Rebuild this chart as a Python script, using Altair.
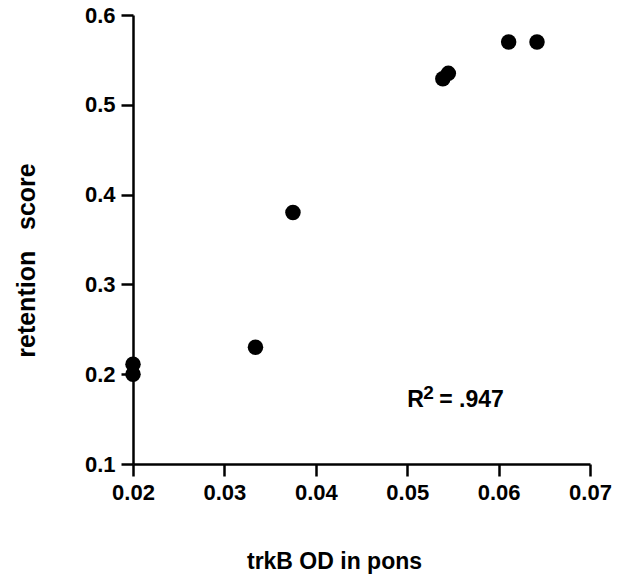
import altair as alt
import pandas as pd

trkb_od = [0.020, 0.020, 0.0334, 0.0375, 0.0539, 0.0545, 0.0611, 0.0642]
retention = [0.200, 0.211, 0.230, 0.380, 0.529, 0.535, 0.570, 0.570]

x_ticks = [0.02, 0.03, 0.04, 0.05, 0.06, 0.07]
y_ticks = [0.1, 0.2, 0.3, 0.4, 0.5, 0.6]

df = pd.DataFrame({"x": trkb_od, "y": retention})

FONT = "Liberation Sans"

xs = alt.Scale(domain=[0.02, 0.07], nice=False, zero=False)
ys = alt.Scale(domain=[0.1, 0.6], nice=False, zero=False)

points = alt.Chart(df).mark_circle(size=240, color="black", opacity=1).encode(
    x=alt.X("x:Q", scale=xs,
            axis=alt.Axis(values=x_ticks, format=".2f", title="trkB OD in pons",
                          titleX=201, titleY=104, titleAlign="center",
                          titleBaseline="alphabetic", titleFontSize=23)),
    y=alt.Y("y:Q", scale=ys,
            axis=alt.Axis(values=y_ticks, format=".1f",
                          title="retention\u00a0\u00a0\u00a0score",
                          titleX=-107, titleY=245, titleAlign="center",
                          titleBaseline="middle", titleAngle=-90, titleFontSize=25)),
)

ann = pd.DataFrame({"x": [0.05], "y": [0.1638]})
r_text = alt.Chart(ann).mark_text(text="R", align="left", baseline="alphabetic",
                                  fontSize=23, fontWeight="bold", font=FONT, color="black"
                                  ).encode(x=alt.X("x:Q", scale=xs), y=alt.Y("y:Q", scale=ys))
sup_text = alt.Chart(ann).mark_text(text="2", align="left", baseline="alphabetic",
                                    fontSize=19, fontWeight="bold", font=FONT, color="black",
                                    dx=16, dy=-8
                                    ).encode(x=alt.X("x:Q", scale=xs), y=alt.Y("y:Q", scale=ys))
rest_text = alt.Chart(ann).mark_text(text="= .947", align="left", baseline="alphabetic",
                                     fontSize=23, fontWeight="bold", font=FONT, color="black",
                                     dx=32
                                     ).encode(x=alt.X("x:Q", scale=xs), y=alt.Y("y:Q", scale=ys))

chart = alt.layer(points, r_text, sup_text, rest_text).properties(
    width=457, height=449,
    background="white",
    autosize=alt.AutoSizeParams(type="none"),
    padding={"left": 125, "top": 7, "right": 30, "bottom": 110},
).configure_view(stroke=None).configure_axis(
    grid=False, domainColor="black", domainWidth=2.5, tickColor="black",
    tickWidth=2.5, tickSize=12, labelFont=FONT, labelFontSize=22,
    labelFontWeight="bold", labelColor="black", labelPadding=6,
    titleFont=FONT, titleFontWeight="bold", titleColor="black",
    labelFlush=False, labelOverlap=False,
)

chart.save("out.html", embed_options={"renderer": "svg", "actions": False})
